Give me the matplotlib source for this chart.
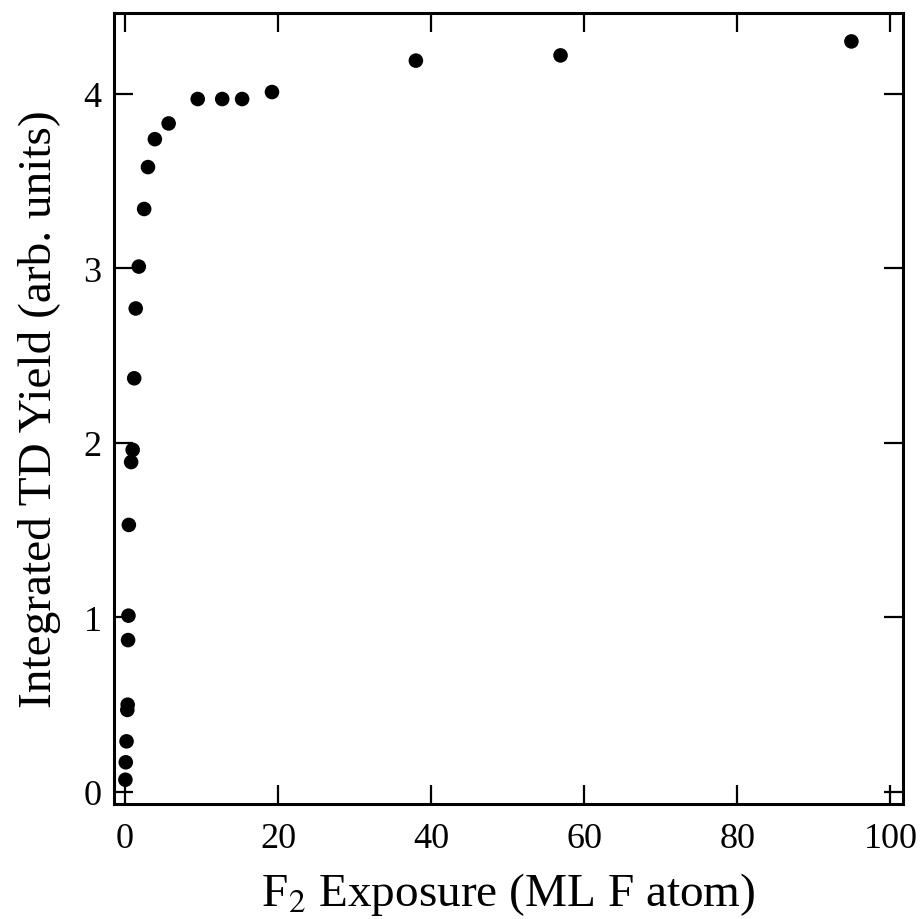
import matplotlib.pyplot as plt

# F2 exposure (ML F atom) and integrated TD yield (arb. units)
exposure = [0.05, 0.1, 0.2, 0.3, 0.35, 0.4, 0.45, 0.5, 0.8, 1.0, 1.2, 1.4,
            1.8, 2.5, 3.0, 3.9, 5.7, 9.5, 12.7, 15.3, 19.2, 38.0, 56.9, 94.9]
td_yield = [0.07, 0.17, 0.29, 0.47, 0.50, 0.87, 1.01, 1.53, 1.89, 1.96, 2.37, 2.77,
            3.01, 3.34, 3.58, 3.74, 3.83, 3.97, 3.97, 3.97, 4.01, 4.19, 4.22, 4.30]

x_ticks = [0, 20, 40, 60, 80, 100]
y_ticks = [0, 1, 2, 3, 4]

plt.rcParams['font.family'] = ['Liberation Serif', 'DejaVu Serif']
plt.rcParams['mathtext.fontset'] = 'stix'

fig = plt.figure(figsize=(9.23, 9.20), dpi=100)
ax = fig.add_axes([0.1235, 0.125, 0.8545, 0.86])

ax.scatter(exposure, td_yield, s=110, color='black', edgecolors='none', zorder=3)

ax.set_xlim(-1.44, 101.6)
ax.set_ylim(-0.069, 4.464)
ax.set_xticks(x_ticks)
ax.set_yticks(y_ticks)
ax.tick_params(direction='in', length=14, width=1.6, top=True, right=True,
               labelsize=26)
ax.tick_params(axis='x', pad=13)
ax.tick_params(axis='y', pad=9)
for sp in ax.spines.values():
    sp.set_linewidth(2.2)

ax.set_xlabel(r'F$_2$ Exposure (ML F atom)', fontsize=34, labelpad=11)
ax.set_ylabel('Integrated TD Yield (arb. units)', fontsize=34, labelpad=16)

fig.savefig('out.png', dpi=100)
